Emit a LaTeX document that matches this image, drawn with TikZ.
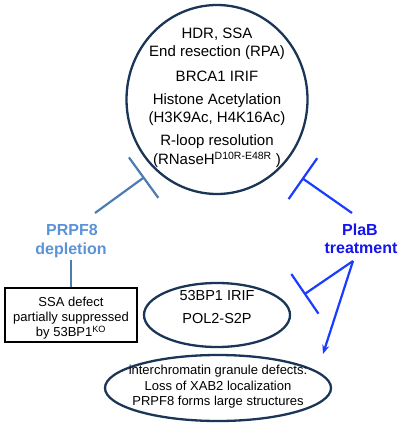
\documentclass[tikz,border=0pt]{standalone}
\usepackage{fontspec}
\setmainfont{Liberation Sans}
\usetikzlibrary{shapes.geometric,arrows.meta}
\definecolor{navy}{HTML}{1B3556}
\definecolor{prtext}{HTML}{5B93D6}
\definecolor{prline}{HTML}{4D7DB0}
\definecolor{plab}{HTML}{1414F0}
\definecolor{plabline}{HTML}{1A3CFF}
\tikzset{
  oval/.style={draw=navy, line width=2.3pt, ellipse, inner sep=0pt},
  ctext/.style={anchor=base, font=\fontsize{15}{18}\selectfont, inner sep=0pt},
  stext/.style={anchor=base, font=\fontsize{13}{15}\selectfont, inner sep=0pt},
  prlabel/.style={anchor=base, font=\fontsize{16}{19}\selectfont\bfseries, text=prtext, inner sep=0pt},
  plablabel/.style={anchor=base, font=\fontsize{16}{19}\selectfont\bfseries, text=plab, inner sep=0pt},
  inhibit/.style={line width=2.2pt, -{Bar[width=50pt,line width=2.2pt]}},
  promote/.style={line width=2.2pt, -{Stealth[length=9pt,width=7pt]}},
}
\begin{document}
\begin{tikzpicture}[x=1pt,y=-1pt]
\useasboundingbox (0,0) rectangle (400,427);
% big circle
\node[oval, minimum width=181pt, minimum height=189pt] (big) at (217,99.5) {};
\node[ctext] (c1) at (217,38.7) {HDR, SSA};
\node[ctext] (c2) at (217,56.1) {End resection (RPA)};
\node[ctext] (c3) at (217,81.4) {BRCA1 IRIF};
\node[ctext] (c4) at (217,104.7) {Histone Acetylation};
\node[ctext] (c5) at (217,122.7) {(H3K9Ac, H4K16Ac)};
\node[ctext] (c6) at (217,145.4) {R-loop resolution};
\node[ctext] (c7) at (217,164.7) {(RNaseH\textsuperscript{D10R-E48R} )};
% PRPF8
\node[prlabel] (pr1) at (72,235.7) {PRPF8};
\node[prlabel] (pr2) at (71,254.7) {depletion};
% PlaB
\node[plablabel] (pl1) at (360,235.7) {PlaB};
\node[plablabel] (pl2) at (361,253.7) {treatment};
% box
\node[draw=black, line width=1.8pt, minimum width=132pt, minimum height=54pt, inner sep=0pt] (box) at (71,315) {};
\node[stext] (b1) at (71,306.6) {SSA defect};
\node[stext] (b2) at (71,321.6) {partially suppressed};
\node[stext] (b3) at (71,336.6) {by 53BP1\textsuperscript{KO}};
% small ellipse
\node[oval, minimum width=146pt, minimum height=64pt] (mid) at (217,315) {};
\node[ctext, font=\fontsize{14.5}{17}\selectfont] (m1) at (217,300.2) {53BP1 IRIF};
\node[ctext, font=\fontsize{14.5}{17}\selectfont] (m2) at (217,323.5) {POL2-S2P};
% bottom ellipse
\node[oval, minimum width=226pt, minimum height=66pt] (low) at (218,388) {};
\node[stext] (l1) at (218,374.6) {interchromatin granule defects:};
\node[stext] (l2) at (218,390.4) {Loss of XAB2 localization};
\node[stext] (l3) at (218,405.4) {PRPF8 forms large structures};
% connectors
\coordinate (prs) at (95,213);
\coordinate (pre) at (144.5,177);
\draw[prline, inhibit] (prs) -- (pre);
\draw[prline, line width=2pt] (71,260) -- (box.north);
\coordinate (pls) at (352,213);
\coordinate (ple) at (302,178);
\draw[plabline, inhibit] (pls) -- (ple);
\coordinate (apex) at (353,261);
\coordinate (mte) at (304,294.5);
\coordinate (arr) at (323,354);
\draw[plabline, line width=2.2pt, -{Bar[width=48pt,line width=2.2pt]}] (apex) -- (mte);
\draw[plabline, promote] (apex) -- (arr);
\end{tikzpicture}
\end{document}
